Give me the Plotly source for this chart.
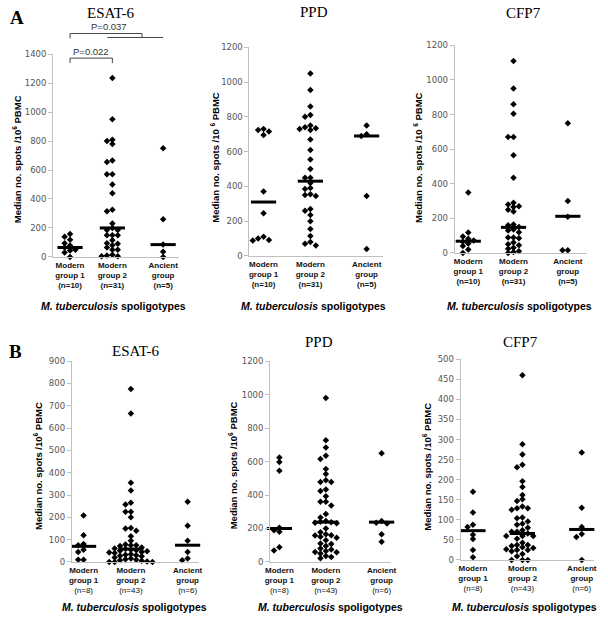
import plotly.graph_objects as go

W, H = 608, 625

# group labels (tick text)
A_GROUPS = ["Modern<br>group 1<br>(n=10)", "Modern<br>group 2<br>(n=31)", "Ancient<br>group<br>(n=5)"]
B_GROUPS = ["Modern<br>group 1<br>(n=8)", "Modern<br>group 2<br>(n=43)", "Ancient<br>group<br>(n=6)"]

# panel A - ESAT-6
A_ESAT6_G1 = [158, 140, 118, 95, 78, 65, 50, 45, 30, 0]
A_ESAT6_G2 = [1235, 950, 810, 800, 780, 665, 655, 570, 570, 500, 440, 325, 315, 230, 200, 185, 185,
              150, 150, 150, 115, 95, 90, 80, 65, 50, 50, 15, 10, 5, 5]
A_ESAT6_AN = [750, 260, 85, 35, 0]
A_ESAT6_MED = [65, 200, 85]

# panel A - PPD
A_PPD_G1 = [730, 725, 715, 695, 370, 245, 110, 100, 92, 88]
A_PPD_G2 = [1050, 955, 860, 810, 800, 750, 740, 735, 730, 725, 670, 610, 555, 500, 450, 450, 420,
            390, 385, 355, 350, 345, 270, 260, 235, 200, 155, 115, 80, 70, 60]
A_PPD_AN = [750, 700, 690, 345, 40]
A_PPD_MED = [310, 430, 690]

# panel A - CFP7
A_CFP7_G1 = [350, 118, 95, 82, 72, 65, 55, 40, 20, 0]
A_CFP7_G2 = [1110, 950, 860, 805, 670, 670, 565, 435, 290, 280, 270, 265, 250, 240, 165, 160, 150,
             135, 130, 120, 90, 90, 85, 60, 50, 45, 30, 25, 10, 5, 0]
A_CFP7_AN = [750, 300, 210, 15, 15]
A_CFP7_MED = [68, 148, 212]

# panel B - ESAT-6
B_ESAT6_G1 = [208, 120, 80, 75, 55, 45, 10, 10]
B_ESAT6_G2 = [775, 665, 355, 320, 265, 258, 225, 225, 200, 152, 150, 140, 115, 95, 78, 75, 75, 72,
              65, 60, 58, 55, 52, 50, 48, 45, 42, 40, 35, 32, 30, 28, 25, 20, 15, 12, 10, 8, 5, 2, 0, 0, 0]
B_ESAT6_AN = [270, 162, 95, 45, 15, 8]
B_ESAT6_MED = [70, 58, 75]

# panel B - PPD
B_PPD_G1 = [625, 598, 545, 205, 190, 180, 88, 68]
B_PPD_G2 = [980, 727, 684, 635, 616, 555, 525, 488, 478, 478, 433, 424, 392, 360, 360, 337, 286, 266,
            245, 240, 238, 235, 232, 200, 178, 165, 160, 158, 150, 145, 130, 110, 108, 95, 80, 75, 65,
            60, 58, 50, 35, 30, 22]
B_PPD_AN = [650, 245, 235, 230, 165, 120]
B_PPD_MED = [200, 238, 238]

# panel B - CFP7
B_CFP7_G1 = [170, 118, 88, 82, 63, 52, 25, 7]
B_CFP7_G2 = [460, 288, 263, 237, 231, 196, 182, 162, 151, 147, 133, 129, 129, 125, 106, 104, 96, 90,
             88, 80, 74, 70, 70, 66, 60, 60, 60, 53, 43, 37, 37, 35, 32, 30, 27, 25, 25, 22, 15, 9, 0, 0, 0]
B_CFP7_AN = [268, 130, 82, 65, 57, 0]
B_CFP7_MED = [73, 66, 76]

GROUP_POS = [1, 2, 3.2]

# layout of each panel in pixels: left, right, top, bottom, x-range, y max, dtick
panels = [
    dict(title="ESAT-6", data=[A_ESAT6_G1, A_ESAT6_G2, A_ESAT6_AN], med=A_ESAT6_MED, groups=A_GROUPS,
         box=(49, 177, 50, 256), xr=(0.6, 3.57), ymax=1400, dt=200, tt=(107, 8), yt=(13, 157), sp=False),
    dict(title="PPD", data=[A_PPD_G1, A_PPD_G2, A_PPD_AN], med=A_PPD_MED, groups=A_GROUPS,
         box=(249, 385, 43, 255), xr=(0.7, 3.55), ymax=1200, dt=200, tt=(315, 7), yt=(213, 155), sp=True),
    dict(title="CFP7", data=[A_CFP7_G1, A_CFP7_G2, A_CFP7_AN], med=A_CFP7_MED, groups=A_GROUPS,
         box=(458, 593, 41, 252), xr=(0.7, 3.63), ymax=1200, dt=200, tt=(528, 8), yt=(420, 155), sp=True),
    dict(title="ESAT-6", data=[B_ESAT6_G1, B_ESAT6_G2, B_ESAT6_AN], med=B_ESAT6_MED, groups=B_GROUPS,
         box=(68, 198, 362, 566), xr=(0.75, 3.45), ymax=900, dt=100, tt=(133, 352), yt=(33, 468), sp=False),
    dict(title="PPD", data=[B_PPD_G1, B_PPD_G2, B_PPD_AN], med=B_PPD_MED, groups=B_GROUPS,
         box=(270, 393, 362, 566), xr=(0.8, 3.4), ymax=1200, dt=200, tt=(320, 342), yt=(232, 468), sp=False),
    dict(title="CFP7", data=[B_CFP7_G1, B_CFP7_G2, B_CFP7_AN], med=B_CFP7_MED, groups=B_GROUPS,
         box=(464, 600, 360, 564), xr=(0.75, 3.45), ymax=500, dt=50, tt=(525, 342), yt=(430, 469), sp=False),
]


def px(x, y):
    return x / W, 1 - y / H


def note(text, x, y, font, **kw):
    return dict(text=text, x=x, y=y, xref=kw.pop("xref", "paper"), yref="paper", showarrow=False,
                xanchor="center", yanchor="middle", font=font, **kw)


def swarm(values, px_per_val, min_dist=4.2):
    # spread points that would overlap sideways
    placed = []
    ks = []
    for v in values:
        y = v * px_per_val
        for k in [0, -1, 1, -2, 2, -3, 3, -4, 4]:
            if all(not (pk == k and abs(py - y) < min_dist) for py, pk in placed):
                break
        placed.append((y, k))
        ks.append(k)
    return ks


fig = go.Figure()
annotations = []
shapes = []
layout = {}

for i, p in enumerate(panels):
    n = "" if i == 0 else str(i + 1)
    l, r, t, b = p["box"]
    x0, x1 = p["xr"]
    ppu_x = (r - l) / (x1 - x0)
    ppv = (b - t) / p["ymax"]
    step = 5.5
    xs, ys = [], []
    for g, vals in enumerate(p["data"]):
        for v, k in zip(vals, swarm(vals, ppv)):
            xs.append(GROUP_POS[g] + k * step / ppu_x)
            ys.append(v)
    fig.add_trace(go.Scatter(x=xs, y=ys, mode="markers", xaxis="x" + n, yaxis="y" + n,
                             marker=dict(symbol="diamond", size=5, color="black"),
                             cliponaxis=False, showlegend=False))
    fig.add_trace(go.Scatter(x=GROUP_POS, y=p["med"], mode="markers", xaxis="x" + n, yaxis="y" + n,
                             marker=dict(symbol="line-ew", size=18, line=dict(width=3, color="black")),
                             cliponaxis=False, showlegend=False))
    ticktext = []
    for gl in p["groups"]:
        parts = gl.split("<br>")
        if i < 3:
            ticktext.append("<br>".join("<b>%s</b>" % s for s in parts))
        else:
            ticktext.append("<b>%s</b><br><b>%s</b><br>%s" % tuple(parts))
    layout["xaxis" + n] = dict(domain=[l / W, r / W], anchor="y" + n, range=[x0, x1],
                               showline=True, linecolor="#c0c0c0", linewidth=1, showgrid=False,
                               zeroline=False, tickvals=GROUP_POS, ticktext=ticktext, ticks="",
                               tickfont=dict(family="Liberation Sans", size=8, color="#111"))
    layout["yaxis" + n] = dict(domain=[1 - b / H, 1 - t / H], anchor="x" + n, range=[0, p["ymax"]],
                               dtick=p["dt"], showline=True, linecolor="#c0c0c0", linewidth=1,
                               ticks="outside", ticklen=4, tickcolor="#c0c0c0", showgrid=False,
                               zeroline=False,
                               tickfont=dict(family="DejaVu Sans", size=8.5, color="#555"))
    tx, ty = px(*p["tt"])
    annotations.append(note(p["title"], tx, ty, dict(family="Liberation Serif", size=15, color="black")))
    yx, yy = px(*p["yt"])
    sup = "/10 <sup>6</sup>" if p["sp"] else "/10<sup>6</sup>"
    annotations.append(note("<b>Median no. spots %s PBMC</b>" % sup, yx, yy,
                            dict(family="Liberation Sans", size=9.5, color="black"), textangle=-90))

# x captions
for cx, cy in [(111, 306), (314, 306), (524, 306), (132, 612), (331, 612), (529, 612)]:
    ax, ay = px(cx, cy)
    annotations.append(note("<b><i>M. tuberculosis</i> spoligotypes</b>", ax, ay,
                            dict(family="Liberation Sans", size=10.5, color="black")))

for letter, (lx, ly) in [("A", (12, 13)), ("B", (11, 352))]:
    ax, ay = px(lx, ly)
    annotations.append(note("<b>%s</b>" % letter, ax, ay,
                            dict(family="Liberation Serif", size=19, color="black")))


# significance brackets on ESAT-6 panel A
def seg(xa, ya, xb, yb):
    shapes.append(dict(type="line", xref="x", yref="paper", x0=xa, x1=xb,
                       y0=1 - ya / H, y1=1 - yb / H, line=dict(color="#444", width=1)))


seg(1, 54, 2, 54)
seg(1, 54, 1, 59)
seg(2, 54, 2, 59)
seg(1, 29, 2.7, 29)
seg(1, 29, 1, 34)
seg(2.7, 29, 2.7, 33)
seg(1.88, 33, 3.2, 33)
for txt, tx, ty in [("P=0.022", 1.5, 47), ("P=0.037", 1.93, 22)]:
    annotations.append(note(txt, tx, 1 - ty / H, dict(family="Liberation Sans", size=9.5, color="#333"),
                            xref="x"))

fig.update_layout(width=W, height=H, margin=dict(l=0, r=0, t=0, b=0), paper_bgcolor="white",
                  plot_bgcolor="white", annotations=annotations, shapes=shapes, **layout)
fig.write_html("out.html", config={"displayModeBar": False},
               post_script="document.body.style.margin='0';")
